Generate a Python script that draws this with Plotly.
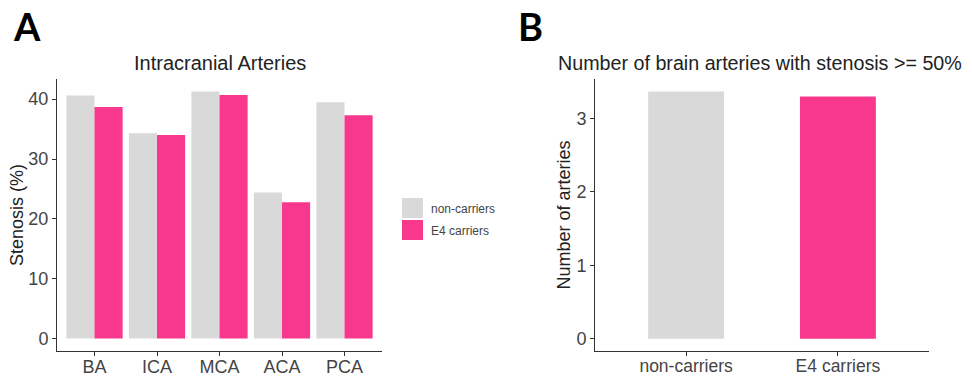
import plotly.graph_objects as go

arteries = ["BA", "ICA", "MCA", "ACA", "PCA"]
non_carriers = [40.6, 34.3, 41.3, 24.4, 39.5]
e4_carriers = [38.7, 34.0, 40.7, 22.8, 37.3]

groups = ["non-carriers", "E4 carriers"]
n_arteries_50 = [3.37, 3.30]

GREY = "#D9D9D9"
PINK = "#F8388D"

W, H = 972, 380


def px(x):
    return x / W


def py(y):
    return 1 - y / H


fig = go.Figure()
fig.add_trace(go.Bar(x=arteries, y=non_carriers, name="non-carriers",
                     marker=dict(color=GREY, line=dict(width=0)), xaxis="x", yaxis="y"))
fig.add_trace(go.Bar(x=arteries, y=e4_carriers, name="E4 carriers",
                     marker=dict(color=PINK, line=dict(width=0)), xaxis="x", yaxis="y"))
fig.add_trace(go.Bar(x=groups, y=n_arteries_50, width=0.5,
                     marker=dict(color=[GREY, PINK], line=dict(width=0)),
                     xaxis="x2", yaxis="y2", showlegend=False))

font_fam = "Liberation Sans, Arial, sans-serif"


def ax(size, standoff=0):
    return dict(showline=True, linecolor="#333333", linewidth=1, ticks="outside",
                ticklen=4, tickcolor="#333333", showgrid=False, zeroline=False,
                automargin=False, ticklabelstandoff=standoff,
                tickfont=dict(size=size, color="#444444", family=font_fam))


ydom = [py(351), py(79)]
fig.update_layout(
    width=W, height=H, margin=dict(l=0, r=0, t=0, b=0),
    plot_bgcolor="white", paper_bgcolor="white",
    barmode="group", bargap=0.1, bargroupgap=0,
    showlegend=False,
    font=dict(family=font_fam, color="#222222"),
    xaxis=dict(domain=[px(57), px(382)], anchor="y", range=[-0.6, 4.6], **ax(18, -5)),
    yaxis=dict(domain=ydom, anchor="x", range=[-2.07, 43.37], tickvals=[0, 10, 20, 30, 40],
               title=dict(text="Stenosis (%)", font=dict(size=18, color="#222222"), standoff=0),
               **ax(18)),
    xaxis2=dict(domain=[px(595), px(929)], anchor="y2", range=[-0.6, 1.6], **ax(17.5, -5)),
    yaxis2=dict(domain=ydom, anchor="x2", range=[-0.168, 3.54], tickvals=[0, 1, 2, 3],
                title=dict(text="Number of arteries", font=dict(size=18, color="#222222"), standoff=1),
                **ax(18)),
)

annotations = [
    dict(text="<b>A</b>", x=px(11), y=py(26), xref="paper", yref="paper",
         xanchor="left", yanchor="middle", showarrow=False,
         font=dict(size=38, color="black", family="Lato, sans-serif")),
    dict(text="<b>B</b>", x=px(516), y=py(26), xref="paper", yref="paper",
         xanchor="left", yanchor="middle", showarrow=False,
         font=dict(size=38, color="black", family="Lato, sans-serif")),
    dict(text="Intracranial Arteries", x=px(219.5), y=py(63), xref="paper", yref="paper",
         xanchor="center", yanchor="middle", showarrow=False,
         font=dict(size=20, color="#222222")),
    dict(text="Number of brain arteries with stenosis >= 50%", x=px(760), y=py(63),
         xref="paper", yref="paper", xanchor="center", yanchor="middle", showarrow=False,
         font=dict(size=19.7, color="#222222")),
]

# legend drawn manually
shapes = []
legend_items = [("non-carriers", GREY, 198), ("E4 carriers", PINK, 220)]
for label, col, ytop in legend_items:
    shapes.append(dict(type="rect", xref="paper", yref="paper",
                       x0=px(402), x1=px(423), y0=py(ytop + 20), y1=py(ytop),
                       fillcolor=col, line=dict(width=0)))
    annotations.append(dict(text=label, x=px(429), y=py(ytop + 11), xref="paper",
                            yref="paper", xanchor="left", yanchor="middle", showarrow=False,
                            font=dict(size=12, color="#444444")))

fig.update_layout(annotations=annotations, shapes=shapes)
fig.write_html("out.html", config={"displayModeBar": False},
               post_script="document.body.style.margin='0';")
